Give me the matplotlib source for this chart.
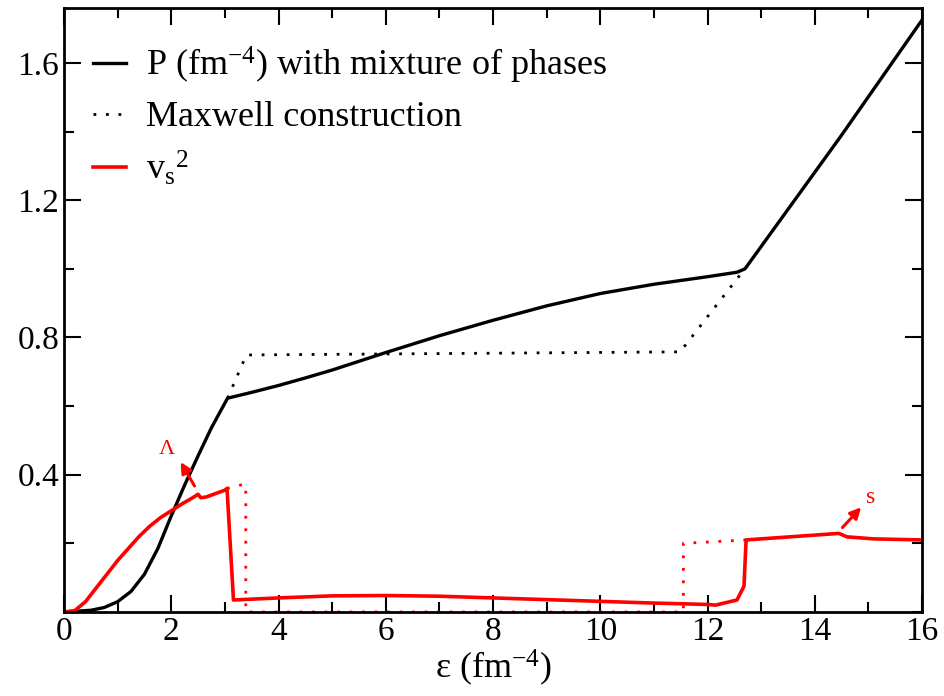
import numpy as np
import matplotlib
matplotlib.use("Agg")
import matplotlib.pyplot as plt
from matplotlib.ticker import MultipleLocator

plt.rcParams['font.family'] = ['Liberation Serif', 'DejaVu Serif']
plt.rcParams['mathtext.fontset'] = 'custom'
plt.rcParams['mathtext.rm'] = 'Liberation Serif'
plt.rcParams['mathtext.it'] = 'Liberation Serif'

# pressure with mixture of phases
eps_p = [0, 0.5, 0.75, 1.0, 1.25, 1.5, 1.75, 2.0, 2.25, 2.5, 2.75, 3.05,
         3.5, 4, 4.5, 5, 6, 7, 8, 9, 10, 11, 12, 12.55, 12.7, 14.48, 16]
p_mix = [0, 0.005, 0.013, 0.03, 0.06, 0.11, 0.185, 0.28, 0.37, 0.455, 0.537, 0.623,
         0.64, 0.66, 0.682, 0.705, 0.756, 0.805, 0.85, 0.892, 0.928, 0.955, 0.977,
         0.99, 1.0, 1.385, 1.725]

# Maxwell construction for pressure
eps_max = [3.05, 3.4, 11.49, 12.67]
p_max = [0.623, 0.749, 0.758, 0.995]

# speed of sound squared, mixture of phases
eps_v = [0, 0.2, 0.4, 0.6, 0.8, 1.0, 1.2, 1.4, 1.6, 1.8, 2.0, 2.2, 2.4, 2.5,
         2.55, 2.65, 3.0, 3.04, 3.16, 4, 5, 6, 7, 8, 9, 10, 11, 12, 12.15,
         12.55, 12.68, 12.72, 14.45, 14.6, 15.1, 16]
vs2 = [0, 0.004, 0.03, 0.07, 0.11, 0.15, 0.185, 0.22, 0.25, 0.275, 0.295,
       0.315, 0.333, 0.343, 0.333, 0.335, 0.355, 0.36, 0.035, 0.041, 0.047,
       0.048, 0.046, 0.041, 0.036, 0.031, 0.026, 0.022, 0.02,
       0.035, 0.075, 0.21, 0.229, 0.219, 0.213, 0.21]

# speed of sound squared, Maxwell construction
eps_vm = [3.04, 3.3, 3.39, 3.39, 11.55, 11.55, 12.72]
vs2_max = [0.36, 0.37, 0.37, 0.0, 0.0, 0.2, 0.21]

fig = plt.figure(figsize=(9.44, 6.96), dpi=100)
ax = fig.add_axes([0.0678, 0.1207, 0.9089, 0.8678])

ax.plot(eps_p, p_mix, color='black', lw=2.4, label=r'P (fm$^{-4}$) with mixture of phases')
ax.plot(eps_max, p_max, color='black', lw=2.0, ls=(0, (1, 3.5)), label='Maxwell construction')
ax.plot(eps_v, vs2, color='red', lw=2.6, label=r'v$_s$$^2$')
ax.plot(eps_vm, vs2_max, color='red', lw=2.0, ls=(0, (1, 3.5)))

ax.annotate('', xy=(2.15, 0.444), xytext=(2.46, 0.36),
            arrowprops=dict(arrowstyle='-|>', color='red', lw=2.2, mutation_scale=16))
ax.text(1.92, 0.473, 'Λ', color='red', fontsize=16, ha='center', va='center')
ax.annotate('', xy=(14.9, 0.311), xytext=(14.48, 0.24),
            arrowprops=dict(arrowstyle='-|>', color='red', lw=2.2, mutation_scale=16))
ax.text(15.04, 0.335, 's', color='red', fontsize=17, ha='center', va='center')

ax.set_xlim(0, 16)
ax.set_ylim(0, 1.76)
ax.xaxis.set_major_locator(MultipleLocator(2))
ax.xaxis.set_minor_locator(MultipleLocator(1))
ax.set_yticks([0.4, 0.8, 1.2, 1.6])
ax.yaxis.set_minor_locator(MultipleLocator(0.2))
ax.tick_params(which='both', direction='in', top=True, right=True, width=1.5, labelsize=24)
ax.tick_params(which='major', length=12)
ax.tick_params(which='minor', length=7)
for s in ax.spines.values():
    s.set_linewidth(2)

ax.set_xlabel(r'ε (fm$^{-4}$)', fontsize=26, labelpad=0)

leg = ax.legend(loc='upper left', bbox_to_anchor=(0.008, 0.975), frameon=False,
                fontsize=26, handlelength=0.92, handletextpad=0.55,
                labelspacing=0.42, borderaxespad=0.4, borderpad=0.2)

fig.savefig('out.png', dpi=100)
